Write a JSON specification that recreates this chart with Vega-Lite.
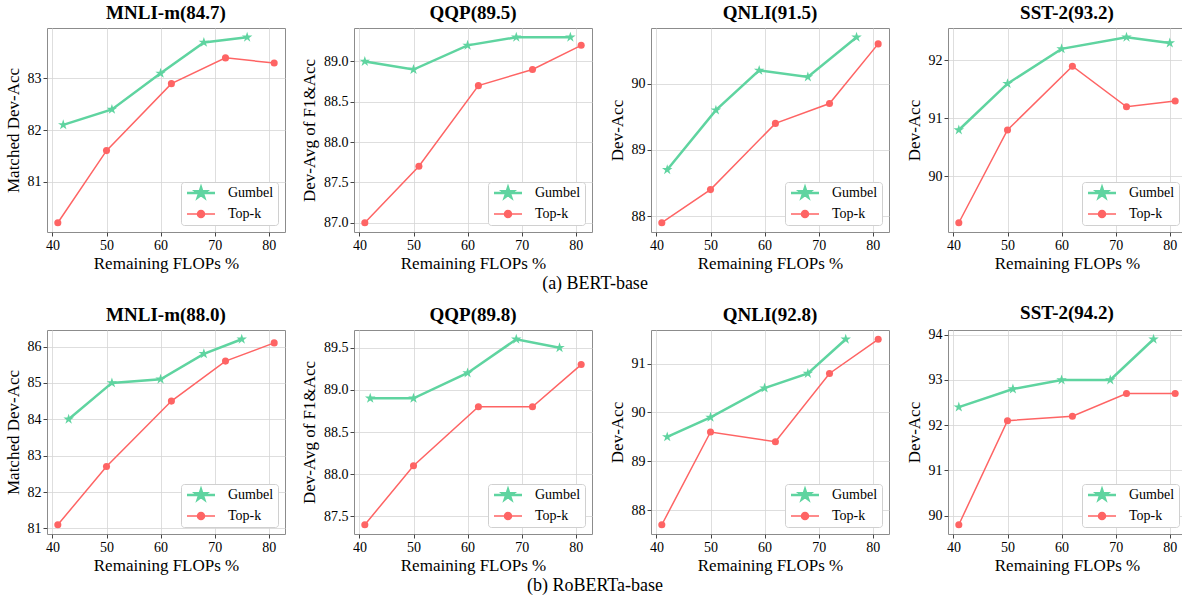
{
  "$schema": "https://vega.github.io/schema/vega-lite/v6.json",
  "padding": {"left": 3, "top": 3, "right": 0, "bottom": 0},
  "background": "white",
  "config": {
    "font": "Liberation Serif",
    "view": {"stroke": "#8c8c8c", "strokeWidth": 1},
    "title": {"font": "Liberation Serif", "fontSize": 19, "fontWeight": "bold", "color": "black", "offset": 5},
    "axis": {
      "domain": false, "grid": true, "gridColor": "#d6d6d6", "gridWidth": 0.8,
      "tickColor": "#444444", "tickSize": 4, "labelFont": "Liberation Serif", "labelFontSize": 14, "labelColor": "black",
      "titleFont": "Liberation Serif", "titleFontSize": 17, "titleFontWeight": "normal", "titleColor": "black",
      "labelPadding": 2, "titlePadding": 3
    },
    "axisY": {"titlePadding": 5},
    "legend": {
      "orient": "bottom-right", "offset": 7, "fillColor": "white", "strokeColor": "#d0d0d0",
      "cornerRadius": 3, "padding": 4, "labelFont": "Liberation Serif", "labelFontSize": 14, "labelColor": "black",
      "labelOffset": 29, "rowPadding": 4, "symbolSize": 100, "symbolOpacity": 1
    }
  },
  "data": {"values": [
    {"m": "BERT", "t": "MNLI", "s": "Gumbel", "x": 42, "y": 82.1},
    {"m": "BERT", "t": "MNLI", "s": "Gumbel", "x": 51, "y": 82.4},
    {"m": "BERT", "t": "MNLI", "s": "Gumbel", "x": 60, "y": 83.1},
    {"m": "BERT", "t": "MNLI", "s": "Gumbel", "x": 68, "y": 83.7},
    {"m": "BERT", "t": "MNLI", "s": "Gumbel", "x": 76, "y": 83.8},
    {"m": "BERT", "t": "MNLI", "s": "Top-k", "x": 41, "y": 80.2},
    {"m": "BERT", "t": "MNLI", "s": "Top-k", "x": 50, "y": 81.6},
    {"m": "BERT", "t": "MNLI", "s": "Top-k", "x": 62, "y": 82.9},
    {"m": "BERT", "t": "MNLI", "s": "Top-k", "x": 72, "y": 83.4},
    {"m": "BERT", "t": "MNLI", "s": "Top-k", "x": 81, "y": 83.3},
    {"m": "BERT", "t": "QQP", "s": "Gumbel", "x": 41, "y": 89.0},
    {"m": "BERT", "t": "QQP", "s": "Gumbel", "x": 50, "y": 88.9},
    {"m": "BERT", "t": "QQP", "s": "Gumbel", "x": 60, "y": 89.2},
    {"m": "BERT", "t": "QQP", "s": "Gumbel", "x": 69, "y": 89.3},
    {"m": "BERT", "t": "QQP", "s": "Gumbel", "x": 79, "y": 89.3},
    {"m": "BERT", "t": "QQP", "s": "Top-k", "x": 41, "y": 87.0},
    {"m": "BERT", "t": "QQP", "s": "Top-k", "x": 51, "y": 87.7},
    {"m": "BERT", "t": "QQP", "s": "Top-k", "x": 62, "y": 88.7},
    {"m": "BERT", "t": "QQP", "s": "Top-k", "x": 72, "y": 88.9},
    {"m": "BERT", "t": "QQP", "s": "Top-k", "x": 81, "y": 89.2},
    {"m": "BERT", "t": "QNLI", "s": "Gumbel", "x": 42, "y": 88.7},
    {"m": "BERT", "t": "QNLI", "s": "Gumbel", "x": 51, "y": 89.6},
    {"m": "BERT", "t": "QNLI", "s": "Gumbel", "x": 59, "y": 90.2},
    {"m": "BERT", "t": "QNLI", "s": "Gumbel", "x": 68, "y": 90.1},
    {"m": "BERT", "t": "QNLI", "s": "Gumbel", "x": 77, "y": 90.7},
    {"m": "BERT", "t": "QNLI", "s": "Top-k", "x": 41, "y": 87.9},
    {"m": "BERT", "t": "QNLI", "s": "Top-k", "x": 50, "y": 88.4},
    {"m": "BERT", "t": "QNLI", "s": "Top-k", "x": 62, "y": 89.4},
    {"m": "BERT", "t": "QNLI", "s": "Top-k", "x": 72, "y": 89.7},
    {"m": "BERT", "t": "QNLI", "s": "Top-k", "x": 81, "y": 90.6},
    {"m": "BERT", "t": "SST", "s": "Gumbel", "x": 41, "y": 90.8},
    {"m": "BERT", "t": "SST", "s": "Gumbel", "x": 50, "y": 91.6},
    {"m": "BERT", "t": "SST", "s": "Gumbel", "x": 60, "y": 92.2},
    {"m": "BERT", "t": "SST", "s": "Gumbel", "x": 72, "y": 92.4},
    {"m": "BERT", "t": "SST", "s": "Gumbel", "x": 80, "y": 92.3},
    {"m": "BERT", "t": "SST", "s": "Top-k", "x": 41, "y": 89.2},
    {"m": "BERT", "t": "SST", "s": "Top-k", "x": 50, "y": 90.8},
    {"m": "BERT", "t": "SST", "s": "Top-k", "x": 62, "y": 91.9},
    {"m": "BERT", "t": "SST", "s": "Top-k", "x": 72, "y": 91.2},
    {"m": "BERT", "t": "SST", "s": "Top-k", "x": 81, "y": 91.3},
    {"m": "RoBERTa", "t": "MNLI", "s": "Gumbel", "x": 43, "y": 84.0},
    {"m": "RoBERTa", "t": "MNLI", "s": "Gumbel", "x": 51, "y": 85.0},
    {"m": "RoBERTa", "t": "MNLI", "s": "Gumbel", "x": 60, "y": 85.1},
    {"m": "RoBERTa", "t": "MNLI", "s": "Gumbel", "x": 68, "y": 85.8},
    {"m": "RoBERTa", "t": "MNLI", "s": "Gumbel", "x": 75, "y": 86.2},
    {"m": "RoBERTa", "t": "MNLI", "s": "Top-k", "x": 41, "y": 81.1},
    {"m": "RoBERTa", "t": "MNLI", "s": "Top-k", "x": 50, "y": 82.7},
    {"m": "RoBERTa", "t": "MNLI", "s": "Top-k", "x": 62, "y": 84.5},
    {"m": "RoBERTa", "t": "MNLI", "s": "Top-k", "x": 72, "y": 85.6},
    {"m": "RoBERTa", "t": "MNLI", "s": "Top-k", "x": 81, "y": 86.1},
    {"m": "RoBERTa", "t": "QQP", "s": "Gumbel", "x": 42, "y": 88.9},
    {"m": "RoBERTa", "t": "QQP", "s": "Gumbel", "x": 50, "y": 88.9},
    {"m": "RoBERTa", "t": "QQP", "s": "Gumbel", "x": 60, "y": 89.2},
    {"m": "RoBERTa", "t": "QQP", "s": "Gumbel", "x": 69, "y": 89.6},
    {"m": "RoBERTa", "t": "QQP", "s": "Gumbel", "x": 77, "y": 89.5},
    {"m": "RoBERTa", "t": "QQP", "s": "Top-k", "x": 41, "y": 87.4},
    {"m": "RoBERTa", "t": "QQP", "s": "Top-k", "x": 50, "y": 88.1},
    {"m": "RoBERTa", "t": "QQP", "s": "Top-k", "x": 62, "y": 88.8},
    {"m": "RoBERTa", "t": "QQP", "s": "Top-k", "x": 72, "y": 88.8},
    {"m": "RoBERTa", "t": "QQP", "s": "Top-k", "x": 81, "y": 89.3},
    {"m": "RoBERTa", "t": "QNLI", "s": "Gumbel", "x": 42, "y": 89.5},
    {"m": "RoBERTa", "t": "QNLI", "s": "Gumbel", "x": 50, "y": 89.9},
    {"m": "RoBERTa", "t": "QNLI", "s": "Gumbel", "x": 60, "y": 90.5},
    {"m": "RoBERTa", "t": "QNLI", "s": "Gumbel", "x": 68, "y": 90.8},
    {"m": "RoBERTa", "t": "QNLI", "s": "Gumbel", "x": 75, "y": 91.5},
    {"m": "RoBERTa", "t": "QNLI", "s": "Top-k", "x": 41, "y": 87.7},
    {"m": "RoBERTa", "t": "QNLI", "s": "Top-k", "x": 50, "y": 89.6},
    {"m": "RoBERTa", "t": "QNLI", "s": "Top-k", "x": 62, "y": 89.4},
    {"m": "RoBERTa", "t": "QNLI", "s": "Top-k", "x": 72, "y": 90.8},
    {"m": "RoBERTa", "t": "QNLI", "s": "Top-k", "x": 81, "y": 91.5},
    {"m": "RoBERTa", "t": "SST", "s": "Gumbel", "x": 41, "y": 92.4},
    {"m": "RoBERTa", "t": "SST", "s": "Gumbel", "x": 51, "y": 92.8},
    {"m": "RoBERTa", "t": "SST", "s": "Gumbel", "x": 60, "y": 93.0},
    {"m": "RoBERTa", "t": "SST", "s": "Gumbel", "x": 69, "y": 93.0},
    {"m": "RoBERTa", "t": "SST", "s": "Gumbel", "x": 77, "y": 93.9},
    {"m": "RoBERTa", "t": "SST", "s": "Top-k", "x": 41, "y": 89.8},
    {"m": "RoBERTa", "t": "SST", "s": "Top-k", "x": 50, "y": 92.1},
    {"m": "RoBERTa", "t": "SST", "s": "Top-k", "x": 62, "y": 92.2},
    {"m": "RoBERTa", "t": "SST", "s": "Top-k", "x": 72, "y": 92.7},
    {"m": "RoBERTa", "t": "SST", "s": "Top-k", "x": 81, "y": 92.7}
  ]},
  "spacing": 10,
  "resolve": {"scale": {"x": "independent", "y": "independent", "color": "independent", "stroke": "independent", "shape": "independent", "strokeWidth": "independent"}, "legend": {"color": "independent", "stroke": "independent", "shape": "independent", "strokeWidth": "independent"}},
  "vconcat": [
    {
      "title": {"text": "(a) BERT-base", "orient": "bottom", "anchor": "middle", "font": "Liberation Serif", "fontSize": 18, "fontWeight": "normal", "offset": 3},
      "spacing": 14,
      "resolve": {"scale": {"x": "independent", "y": "independent", "color": "independent", "stroke": "independent", "shape": "independent", "strokeWidth": "independent"}, "legend": {"color": "independent", "stroke": "independent", "shape": "independent", "strokeWidth": "independent"}},
      "hconcat": [
        {
          "width": 238, "height": 204, "title": "MNLI-m(84.7)",
          "transform": [{"filter": "datum.m === 'BERT' && datum.t === 'MNLI'"}],
          "encoding": {
            "x": {"field": "x", "type": "quantitative", "scale": {"domain": [39, 83], "nice": false, "zero": false}, "axis": {"values": [40, 50, 60, 70, 80], "title": "Remaining FLOPs %"}},
            "y": {"field": "y", "type": "quantitative", "scale": {"domain": [80.02, 83.98], "nice": false, "zero": false}, "axis": {"values": [81, 82, 83], "title": "Matched Dev-Acc"}}
          },
          "layer": [
            {"transform": [{"filter": "false"}], "mark": {"type": "point", "filled": true, "size": 100, "opacity": 1}, "encoding": {
              "color": {"field": "s", "type": "nominal", "scale": {"domain": ["Gumbel", "Top-k"], "range": ["#5fd4a0", "#fe6464"]}, "legend": {"title": null}},
              "stroke": {"field": "s", "type": "nominal", "scale": {"domain": ["Gumbel", "Top-k"], "range": ["#5fd4a0", "#fe6464"]}, "legend": {"title": null}},
              "shape": {"field": "s", "type": "nominal", "scale": {"domain": ["Gumbel", "Top-k"], "range": ["M-1,0L4.6,0M1.8,-1.1L2.047,-0.34L2.846,-0.34L2.199,0.13L2.447,0.89L1.8,0.42L1.153,0.89L1.401,0.13L0.754,-0.34L1.553,-0.34Z", "M-1,0L4.6,0M2.5,0A0.7,0.7 0 1,1 1.1,0A0.7,0.7 0 1,1 2.5,0Z"]}, "legend": {"title": null}},
              "strokeWidth": {"field": "s", "type": "ordinal", "scale": {"domain": ["Gumbel", "Top-k"], "range": [2.5, 1.5]}, "legend": {"title": null}}}},
            {"transform": [{"filter": "datum.s === 'Gumbel'"}], "mark": {"type": "line", "color": "#5fd4a0", "strokeWidth": 2.5}, "encoding": {}},
            {"transform": [{"filter": "datum.s === 'Top-k'"}], "mark": {"type": "line", "color": "#fe6464", "strokeWidth": 1.5}, "encoding": {}},
            {"transform": [{"filter": "datum.s === 'Gumbel'"}], "mark": {"type": "point", "filled": true, "opacity": 1, "color": "#5fd4a0", "size": 121, "shape": "M0,-1L0.225,-0.309L0.951,-0.309L0.363,0.118L0.588,0.809L0,0.382L-0.588,0.809L-0.363,0.118L-0.951,-0.309L-0.225,-0.309Z"}},
            {"transform": [{"filter": "datum.s === 'Top-k'"}], "mark": {"type": "point", "filled": true, "opacity": 1, "color": "#fe6464", "size": 50, "shape": "circle"}}
          ]
        },
        {
          "width": 238, "height": 204, "title": "QQP(89.5)",
          "transform": [{"filter": "datum.m === 'BERT' && datum.t === 'QQP'"}],
          "encoding": {
            "x": {"field": "x", "type": "quantitative", "scale": {"domain": [39, 83], "nice": false, "zero": false}, "axis": {"values": [40, 50, 60, 70, 80], "title": "Remaining FLOPs %"}},
            "y": {"field": "y", "type": "quantitative", "scale": {"domain": [86.885, 89.415], "nice": false, "zero": false}, "axis": {"values": [87, 87.5, 88, 88.5, 89], "format": ".1f", "title": "Dev-Avg of F1&Acc"}}
          },
          "layer": [
            {"transform": [{"filter": "false"}], "mark": {"type": "point", "filled": true, "size": 100, "opacity": 1}, "encoding": {
              "color": {"field": "s", "type": "nominal", "scale": {"domain": ["Gumbel", "Top-k"], "range": ["#5fd4a0", "#fe6464"]}, "legend": {"title": null}},
              "stroke": {"field": "s", "type": "nominal", "scale": {"domain": ["Gumbel", "Top-k"], "range": ["#5fd4a0", "#fe6464"]}, "legend": {"title": null}},
              "shape": {"field": "s", "type": "nominal", "scale": {"domain": ["Gumbel", "Top-k"], "range": ["M-1,0L4.6,0M1.8,-1.1L2.047,-0.34L2.846,-0.34L2.199,0.13L2.447,0.89L1.8,0.42L1.153,0.89L1.401,0.13L0.754,-0.34L1.553,-0.34Z", "M-1,0L4.6,0M2.5,0A0.7,0.7 0 1,1 1.1,0A0.7,0.7 0 1,1 2.5,0Z"]}, "legend": {"title": null}},
              "strokeWidth": {"field": "s", "type": "ordinal", "scale": {"domain": ["Gumbel", "Top-k"], "range": [2.5, 1.5]}, "legend": {"title": null}}}},
            {"transform": [{"filter": "datum.s === 'Gumbel'"}], "mark": {"type": "line", "color": "#5fd4a0", "strokeWidth": 2.5}, "encoding": {}},
            {"transform": [{"filter": "datum.s === 'Top-k'"}], "mark": {"type": "line", "color": "#fe6464", "strokeWidth": 1.5}, "encoding": {}},
            {"transform": [{"filter": "datum.s === 'Gumbel'"}], "mark": {"type": "point", "filled": true, "opacity": 1, "color": "#5fd4a0", "size": 121, "shape": "M0,-1L0.225,-0.309L0.951,-0.309L0.363,0.118L0.588,0.809L0,0.382L-0.588,0.809L-0.363,0.118L-0.951,-0.309L-0.225,-0.309Z"}},
            {"transform": [{"filter": "datum.s === 'Top-k'"}], "mark": {"type": "point", "filled": true, "opacity": 1, "color": "#fe6464", "size": 50, "shape": "circle"}}
          ]
        },
        {
          "width": 238, "height": 204, "title": "QNLI(91.5)",
          "transform": [{"filter": "datum.m === 'BERT' && datum.t === 'QNLI'"}],
          "encoding": {
            "x": {"field": "x", "type": "quantitative", "scale": {"domain": [39, 83], "nice": false, "zero": false}, "axis": {"values": [40, 50, 60, 70, 80], "title": "Remaining FLOPs %"}},
            "y": {"field": "y", "type": "quantitative", "scale": {"domain": [87.76, 90.84], "nice": false, "zero": false}, "axis": {"values": [88, 89, 90], "title": "Dev-Acc"}}
          },
          "layer": [
            {"transform": [{"filter": "false"}], "mark": {"type": "point", "filled": true, "size": 100, "opacity": 1}, "encoding": {
              "color": {"field": "s", "type": "nominal", "scale": {"domain": ["Gumbel", "Top-k"], "range": ["#5fd4a0", "#fe6464"]}, "legend": {"title": null}},
              "stroke": {"field": "s", "type": "nominal", "scale": {"domain": ["Gumbel", "Top-k"], "range": ["#5fd4a0", "#fe6464"]}, "legend": {"title": null}},
              "shape": {"field": "s", "type": "nominal", "scale": {"domain": ["Gumbel", "Top-k"], "range": ["M-1,0L4.6,0M1.8,-1.1L2.047,-0.34L2.846,-0.34L2.199,0.13L2.447,0.89L1.8,0.42L1.153,0.89L1.401,0.13L0.754,-0.34L1.553,-0.34Z", "M-1,0L4.6,0M2.5,0A0.7,0.7 0 1,1 1.1,0A0.7,0.7 0 1,1 2.5,0Z"]}, "legend": {"title": null}},
              "strokeWidth": {"field": "s", "type": "ordinal", "scale": {"domain": ["Gumbel", "Top-k"], "range": [2.5, 1.5]}, "legend": {"title": null}}}},
            {"transform": [{"filter": "datum.s === 'Gumbel'"}], "mark": {"type": "line", "color": "#5fd4a0", "strokeWidth": 2.5}, "encoding": {}},
            {"transform": [{"filter": "datum.s === 'Top-k'"}], "mark": {"type": "line", "color": "#fe6464", "strokeWidth": 1.5}, "encoding": {}},
            {"transform": [{"filter": "datum.s === 'Gumbel'"}], "mark": {"type": "point", "filled": true, "opacity": 1, "color": "#5fd4a0", "size": 121, "shape": "M0,-1L0.225,-0.309L0.951,-0.309L0.363,0.118L0.588,0.809L0,0.382L-0.588,0.809L-0.363,0.118L-0.951,-0.309L-0.225,-0.309Z"}},
            {"transform": [{"filter": "datum.s === 'Top-k'"}], "mark": {"type": "point", "filled": true, "opacity": 1, "color": "#fe6464", "size": 50, "shape": "circle"}}
          ]
        },
        {
          "width": 238, "height": 204, "title": "SST-2(93.2)",
          "transform": [{"filter": "datum.m === 'BERT' && datum.t === 'SST'"}],
          "encoding": {
            "x": {"field": "x", "type": "quantitative", "scale": {"domain": [39, 83], "nice": false, "zero": false}, "axis": {"values": [40, 50, 60, 70, 80], "title": "Remaining FLOPs %"}},
            "y": {"field": "y", "type": "quantitative", "scale": {"domain": [89.04, 92.56], "nice": false, "zero": false}, "axis": {"values": [90, 91, 92], "title": "Dev-Acc"}}
          },
          "layer": [
            {"transform": [{"filter": "false"}], "mark": {"type": "point", "filled": true, "size": 100, "opacity": 1}, "encoding": {
              "color": {"field": "s", "type": "nominal", "scale": {"domain": ["Gumbel", "Top-k"], "range": ["#5fd4a0", "#fe6464"]}, "legend": {"title": null}},
              "stroke": {"field": "s", "type": "nominal", "scale": {"domain": ["Gumbel", "Top-k"], "range": ["#5fd4a0", "#fe6464"]}, "legend": {"title": null}},
              "shape": {"field": "s", "type": "nominal", "scale": {"domain": ["Gumbel", "Top-k"], "range": ["M-1,0L4.6,0M1.8,-1.1L2.047,-0.34L2.846,-0.34L2.199,0.13L2.447,0.89L1.8,0.42L1.153,0.89L1.401,0.13L0.754,-0.34L1.553,-0.34Z", "M-1,0L4.6,0M2.5,0A0.7,0.7 0 1,1 1.1,0A0.7,0.7 0 1,1 2.5,0Z"]}, "legend": {"title": null}},
              "strokeWidth": {"field": "s", "type": "ordinal", "scale": {"domain": ["Gumbel", "Top-k"], "range": [2.5, 1.5]}, "legend": {"title": null}}}},
            {"transform": [{"filter": "datum.s === 'Gumbel'"}], "mark": {"type": "line", "color": "#5fd4a0", "strokeWidth": 2.5}, "encoding": {}},
            {"transform": [{"filter": "datum.s === 'Top-k'"}], "mark": {"type": "line", "color": "#fe6464", "strokeWidth": 1.5}, "encoding": {}},
            {"transform": [{"filter": "datum.s === 'Gumbel'"}], "mark": {"type": "point", "filled": true, "opacity": 1, "color": "#5fd4a0", "size": 121, "shape": "M0,-1L0.225,-0.309L0.951,-0.309L0.363,0.118L0.588,0.809L0,0.382L-0.588,0.809L-0.363,0.118L-0.951,-0.309L-0.225,-0.309Z"}},
            {"transform": [{"filter": "datum.s === 'Top-k'"}], "mark": {"type": "point", "filled": true, "opacity": 1, "color": "#fe6464", "size": 50, "shape": "circle"}}
          ]
        }
      ]
    },
    {
      "title": {"text": "(b) RoBERTa-base", "orient": "bottom", "anchor": "middle", "font": "Liberation Serif", "fontSize": 18, "fontWeight": "normal", "offset": 3},
      "spacing": 14,
      "resolve": {"scale": {"x": "independent", "y": "independent", "color": "independent", "stroke": "independent", "shape": "independent", "strokeWidth": "independent"}, "legend": {"color": "independent", "stroke": "independent", "shape": "independent", "strokeWidth": "independent"}},
      "hconcat": [
        {
          "width": 238, "height": 204, "title": "MNLI-m(88.0)",
          "transform": [{"filter": "datum.m === 'RoBERTa' && datum.t === 'MNLI'"}],
          "encoding": {
            "x": {"field": "x", "type": "quantitative", "scale": {"domain": [39, 83], "nice": false, "zero": false}, "axis": {"values": [40, 50, 60, 70, 80], "title": "Remaining FLOPs %"}},
            "y": {"field": "y", "type": "quantitative", "scale": {"domain": [80.845, 86.455], "nice": false, "zero": false}, "axis": {"values": [81, 82, 83, 84, 85, 86], "title": "Matched Dev-Acc"}}
          },
          "layer": [
            {"transform": [{"filter": "false"}], "mark": {"type": "point", "filled": true, "size": 100, "opacity": 1}, "encoding": {
              "color": {"field": "s", "type": "nominal", "scale": {"domain": ["Gumbel", "Top-k"], "range": ["#5fd4a0", "#fe6464"]}, "legend": {"title": null}},
              "stroke": {"field": "s", "type": "nominal", "scale": {"domain": ["Gumbel", "Top-k"], "range": ["#5fd4a0", "#fe6464"]}, "legend": {"title": null}},
              "shape": {"field": "s", "type": "nominal", "scale": {"domain": ["Gumbel", "Top-k"], "range": ["M-1,0L4.6,0M1.8,-1.1L2.047,-0.34L2.846,-0.34L2.199,0.13L2.447,0.89L1.8,0.42L1.153,0.89L1.401,0.13L0.754,-0.34L1.553,-0.34Z", "M-1,0L4.6,0M2.5,0A0.7,0.7 0 1,1 1.1,0A0.7,0.7 0 1,1 2.5,0Z"]}, "legend": {"title": null}},
              "strokeWidth": {"field": "s", "type": "ordinal", "scale": {"domain": ["Gumbel", "Top-k"], "range": [2.5, 1.5]}, "legend": {"title": null}}}},
            {"transform": [{"filter": "datum.s === 'Gumbel'"}], "mark": {"type": "line", "color": "#5fd4a0", "strokeWidth": 2.5}, "encoding": {}},
            {"transform": [{"filter": "datum.s === 'Top-k'"}], "mark": {"type": "line", "color": "#fe6464", "strokeWidth": 1.5}, "encoding": {}},
            {"transform": [{"filter": "datum.s === 'Gumbel'"}], "mark": {"type": "point", "filled": true, "opacity": 1, "color": "#5fd4a0", "size": 121, "shape": "M0,-1L0.225,-0.309L0.951,-0.309L0.363,0.118L0.588,0.809L0,0.382L-0.588,0.809L-0.363,0.118L-0.951,-0.309L-0.225,-0.309Z"}},
            {"transform": [{"filter": "datum.s === 'Top-k'"}], "mark": {"type": "point", "filled": true, "opacity": 1, "color": "#fe6464", "size": 50, "shape": "circle"}}
          ]
        },
        {
          "width": 238, "height": 204, "title": "QQP(89.8)",
          "transform": [{"filter": "datum.m === 'RoBERTa' && datum.t === 'QQP'"}],
          "encoding": {
            "x": {"field": "x", "type": "quantitative", "scale": {"domain": [39, 83], "nice": false, "zero": false}, "axis": {"values": [40, 50, 60, 70, 80], "title": "Remaining FLOPs %"}},
            "y": {"field": "y", "type": "quantitative", "scale": {"domain": [87.29, 89.71], "nice": false, "zero": false}, "axis": {"values": [87.5, 88, 88.5, 89, 89.5], "format": ".1f", "title": "Dev-Avg of F1&Acc"}}
          },
          "layer": [
            {"transform": [{"filter": "false"}], "mark": {"type": "point", "filled": true, "size": 100, "opacity": 1}, "encoding": {
              "color": {"field": "s", "type": "nominal", "scale": {"domain": ["Gumbel", "Top-k"], "range": ["#5fd4a0", "#fe6464"]}, "legend": {"title": null}},
              "stroke": {"field": "s", "type": "nominal", "scale": {"domain": ["Gumbel", "Top-k"], "range": ["#5fd4a0", "#fe6464"]}, "legend": {"title": null}},
              "shape": {"field": "s", "type": "nominal", "scale": {"domain": ["Gumbel", "Top-k"], "range": ["M-1,0L4.6,0M1.8,-1.1L2.047,-0.34L2.846,-0.34L2.199,0.13L2.447,0.89L1.8,0.42L1.153,0.89L1.401,0.13L0.754,-0.34L1.553,-0.34Z", "M-1,0L4.6,0M2.5,0A0.7,0.7 0 1,1 1.1,0A0.7,0.7 0 1,1 2.5,0Z"]}, "legend": {"title": null}},
              "strokeWidth": {"field": "s", "type": "ordinal", "scale": {"domain": ["Gumbel", "Top-k"], "range": [2.5, 1.5]}, "legend": {"title": null}}}},
            {"transform": [{"filter": "datum.s === 'Gumbel'"}], "mark": {"type": "line", "color": "#5fd4a0", "strokeWidth": 2.5}, "encoding": {}},
            {"transform": [{"filter": "datum.s === 'Top-k'"}], "mark": {"type": "line", "color": "#fe6464", "strokeWidth": 1.5}, "encoding": {}},
            {"transform": [{"filter": "datum.s === 'Gumbel'"}], "mark": {"type": "point", "filled": true, "opacity": 1, "color": "#5fd4a0", "size": 121, "shape": "M0,-1L0.225,-0.309L0.951,-0.309L0.363,0.118L0.588,0.809L0,0.382L-0.588,0.809L-0.363,0.118L-0.951,-0.309L-0.225,-0.309Z"}},
            {"transform": [{"filter": "datum.s === 'Top-k'"}], "mark": {"type": "point", "filled": true, "opacity": 1, "color": "#fe6464", "size": 50, "shape": "circle"}}
          ]
        },
        {
          "width": 238, "height": 204, "title": "QNLI(92.8)",
          "transform": [{"filter": "datum.m === 'RoBERTa' && datum.t === 'QNLI'"}],
          "encoding": {
            "x": {"field": "x", "type": "quantitative", "scale": {"domain": [39, 83], "nice": false, "zero": false}, "axis": {"values": [40, 50, 60, 70, 80], "title": "Remaining FLOPs %"}},
            "y": {"field": "y", "type": "quantitative", "scale": {"domain": [87.51, 91.69], "nice": false, "zero": false}, "axis": {"values": [88, 89, 90, 91], "title": "Dev-Acc"}}
          },
          "layer": [
            {"transform": [{"filter": "false"}], "mark": {"type": "point", "filled": true, "size": 100, "opacity": 1}, "encoding": {
              "color": {"field": "s", "type": "nominal", "scale": {"domain": ["Gumbel", "Top-k"], "range": ["#5fd4a0", "#fe6464"]}, "legend": {"title": null}},
              "stroke": {"field": "s", "type": "nominal", "scale": {"domain": ["Gumbel", "Top-k"], "range": ["#5fd4a0", "#fe6464"]}, "legend": {"title": null}},
              "shape": {"field": "s", "type": "nominal", "scale": {"domain": ["Gumbel", "Top-k"], "range": ["M-1,0L4.6,0M1.8,-1.1L2.047,-0.34L2.846,-0.34L2.199,0.13L2.447,0.89L1.8,0.42L1.153,0.89L1.401,0.13L0.754,-0.34L1.553,-0.34Z", "M-1,0L4.6,0M2.5,0A0.7,0.7 0 1,1 1.1,0A0.7,0.7 0 1,1 2.5,0Z"]}, "legend": {"title": null}},
              "strokeWidth": {"field": "s", "type": "ordinal", "scale": {"domain": ["Gumbel", "Top-k"], "range": [2.5, 1.5]}, "legend": {"title": null}}}},
            {"transform": [{"filter": "datum.s === 'Gumbel'"}], "mark": {"type": "line", "color": "#5fd4a0", "strokeWidth": 2.5}, "encoding": {}},
            {"transform": [{"filter": "datum.s === 'Top-k'"}], "mark": {"type": "line", "color": "#fe6464", "strokeWidth": 1.5}, "encoding": {}},
            {"transform": [{"filter": "datum.s === 'Gumbel'"}], "mark": {"type": "point", "filled": true, "opacity": 1, "color": "#5fd4a0", "size": 121, "shape": "M0,-1L0.225,-0.309L0.951,-0.309L0.363,0.118L0.588,0.809L0,0.382L-0.588,0.809L-0.363,0.118L-0.951,-0.309L-0.225,-0.309Z"}},
            {"transform": [{"filter": "datum.s === 'Top-k'"}], "mark": {"type": "point", "filled": true, "opacity": 1, "color": "#fe6464", "size": 50, "shape": "circle"}}
          ]
        },
        {
          "width": 238, "height": 204, "title": "SST-2(94.2)",
          "transform": [{"filter": "datum.m === 'RoBERTa' && datum.t === 'SST'"}],
          "encoding": {
            "x": {"field": "x", "type": "quantitative", "scale": {"domain": [39, 83], "nice": false, "zero": false}, "axis": {"values": [40, 50, 60, 70, 80], "title": "Remaining FLOPs %"}},
            "y": {"field": "y", "type": "quantitative", "scale": {"domain": [89.595, 94.105], "nice": false, "zero": false}, "axis": {"values": [90, 91, 92, 93, 94], "title": "Dev-Acc"}}
          },
          "layer": [
            {"transform": [{"filter": "false"}], "mark": {"type": "point", "filled": true, "size": 100, "opacity": 1}, "encoding": {
              "color": {"field": "s", "type": "nominal", "scale": {"domain": ["Gumbel", "Top-k"], "range": ["#5fd4a0", "#fe6464"]}, "legend": {"title": null}},
              "stroke": {"field": "s", "type": "nominal", "scale": {"domain": ["Gumbel", "Top-k"], "range": ["#5fd4a0", "#fe6464"]}, "legend": {"title": null}},
              "shape": {"field": "s", "type": "nominal", "scale": {"domain": ["Gumbel", "Top-k"], "range": ["M-1,0L4.6,0M1.8,-1.1L2.047,-0.34L2.846,-0.34L2.199,0.13L2.447,0.89L1.8,0.42L1.153,0.89L1.401,0.13L0.754,-0.34L1.553,-0.34Z", "M-1,0L4.6,0M2.5,0A0.7,0.7 0 1,1 1.1,0A0.7,0.7 0 1,1 2.5,0Z"]}, "legend": {"title": null}},
              "strokeWidth": {"field": "s", "type": "ordinal", "scale": {"domain": ["Gumbel", "Top-k"], "range": [2.5, 1.5]}, "legend": {"title": null}}}},
            {"transform": [{"filter": "datum.s === 'Gumbel'"}], "mark": {"type": "line", "color": "#5fd4a0", "strokeWidth": 2.5}, "encoding": {}},
            {"transform": [{"filter": "datum.s === 'Top-k'"}], "mark": {"type": "line", "color": "#fe6464", "strokeWidth": 1.5}, "encoding": {}},
            {"transform": [{"filter": "datum.s === 'Gumbel'"}], "mark": {"type": "point", "filled": true, "opacity": 1, "color": "#5fd4a0", "size": 121, "shape": "M0,-1L0.225,-0.309L0.951,-0.309L0.363,0.118L0.588,0.809L0,0.382L-0.588,0.809L-0.363,0.118L-0.951,-0.309L-0.225,-0.309Z"}},
            {"transform": [{"filter": "datum.s === 'Top-k'"}], "mark": {"type": "point", "filled": true, "opacity": 1, "color": "#fe6464", "size": 50, "shape": "circle"}}
          ]
        }
      ]
    }
  ]
}
